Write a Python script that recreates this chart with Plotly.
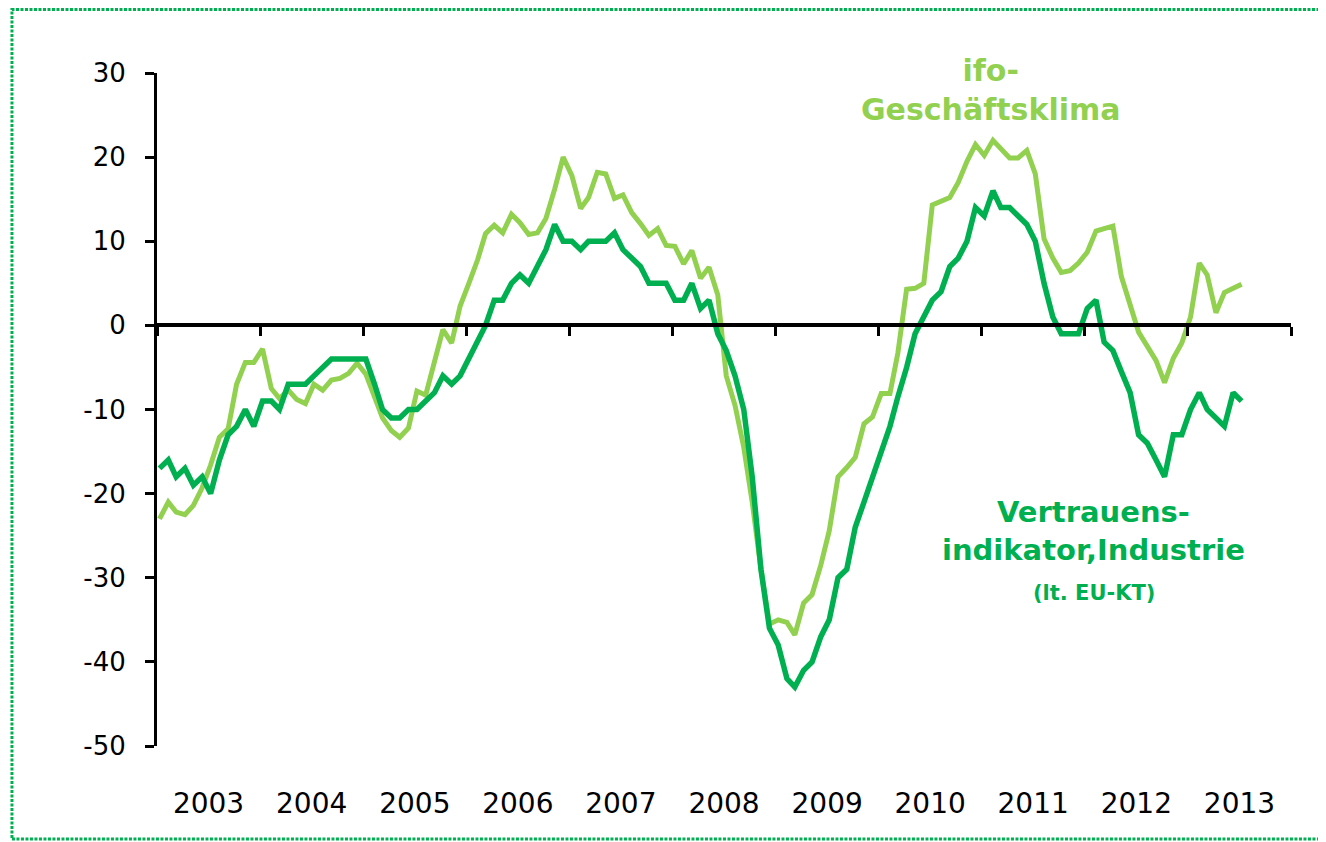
import pandas as pd
import plotly.graph_objects as go

# Monthly observations, Jan 2003 - Jul 2013
months = pd.date_range("2003-01-01", periods=127, freq="MS") + pd.Timedelta(days=9)

ifo_geschaeftsklima = [
    -23, -21, -22.2, -22.5, -21.4, -19.3, -16.6, -13.3, -12.3, -7, -4.4, -4.4,      # 2003
    -2.8, -7.5, -8.7, -7.7, -8.8, -9.3, -7, -7.7, -6.5, -6.3, -5.7, -4.5,           # 2004
    -5.8, -8.5, -11, -12.5, -13.3, -12.2, -7.8, -8.3, -4.4, -0.5, -2.1, 2.3,        # 2005
    5, 7.8, 10.9, 11.9, 11, 13.2, 12.2, 10.8, 11, 12.7, 16.2, 20,                   # 2006
    17.8, 13.9, 15.2, 18.2, 18, 15.1, 15.5, 13.4, 12.1, 10.7, 11.5, 9.5,            # 2007
    9.4, 7.3, 8.9, 5.6, 6.9, 3.6, -6, -9.5, -14.5, -21, -29, -35.5,                 # 2008
    -35, -35.3, -36.8, -33, -32, -28.5, -24.4, -18, -16.9, -15.7, -11.7, -10.9,     # 2009
    -8.1, -8.1, -3.3, 4.3, 4.4, 5, 14.3, 14.7, 15.2, 17, 19.5, 21.5,                # 2010
    20.2, 22, 21, 19.9, 19.9, 20.8, 18, 10.3, 8, 6.3, 6.5, 7.4,                     # 2011
    8.7, 11.2, 11.5, 11.8, 5.8, 2.6, -0.8, -2.5, -4.2, -6.8, -3.9, -2.1,            # 2012
    1, 7.4, 6, 1.5, 3.9, 4.4, 4.9,                                                  # 2013
]

vertrauensindikator_industrie = [
    -17, -16, -18, -17, -19, -18, -20, -16, -13, -12, -10, -12,                     # 2003
    -9, -9, -10, -7, -7, -7, -6, -5, -4, -4, -4, -4,                                # 2004
    -4, -7, -10, -11, -11, -10, -10, -9, -8, -6, -7, -6,                            # 2005
    -4, -2, 0, 3, 3, 5, 6, 5, 7, 9, 12, 10,                                         # 2006
    10, 9, 10, 10, 10, 11, 9, 8, 7, 5, 5, 5,                                        # 2007
    3, 3, 5, 2, 3, -1, -3, -6, -10, -18, -29, -36,                                  # 2008
    -38, -42, -43, -41, -40, -37, -35, -30, -29, -24, -21, -18,                     # 2009
    -15, -12, -8.5, -5, -1, 1, 3, 4, 7, 8, 10, 14,                                  # 2010
    13, 16, 14, 14, 13, 12, 10, 5, 1, -1, -1, -1,                                   # 2011
    2, 3, -2, -3, -5.5, -8, -13, -14, -16, -18, -13, -13,                           # 2012
    -10, -8, -10, -11, -12, -8, -9,                                                 # 2013
]

year_labels = [str(y) for y in range(2003, 2014)]
y_ticks = [-50, -40, -30, -20, -10, 0, 10, 20, 30]

LIGHT = "#92D050"
DARK = "#00B050"
TICK_FONT = "DejaVu Sans"

fig = go.Figure()
fig.add_trace(go.Scatter(
    x=months, y=ifo_geschaeftsklima, mode="lines", name="ifo-Geschäftsklima",
    line=dict(color=LIGHT, width=5), xaxis="x", yaxis="y",
    showlegend=False, hoverinfo="skip",
))
fig.add_trace(go.Scatter(
    x=months, y=vertrauensindikator_industrie, mode="lines",
    name="Vertrauensindikator, Industrie",
    line=dict(color=DARK, width=5.5), xaxis="x2", yaxis="y",
    showlegend=False, hoverinfo="skip",
))

x_range = ["2003-01-01", "2014-01-01"]

fig.update_layout(
    width=1326, height=842,
    margin=dict(l=149, r=43, t=65, b=104),
    paper_bgcolor="white", plot_bgcolor="white",
    showlegend=False,
    xaxis=dict(
        type="date", range=x_range,
        tickmode="linear", tick0="2003-01-01", dtick="M12",
        ticklabelmode="period", tickformat="%Y",
        ticks="outside", ticklen=32, tickcolor="rgba(0,0,0,0)",
        showline=False, showgrid=False, zeroline=False,
        tickfont=dict(family=TICK_FONT, size=28, color="black"),
    ),
    xaxis2=dict(
        type="date", overlaying="x", matches="x", anchor="free",
        position=50 / 80, side="bottom",
        tickmode="linear", tick0="2003-01-01", dtick="M12",
        showline=True, linecolor="black", linewidth=4,
        ticks="outside", ticklen=9, tickwidth=3, tickcolor="black",
        showticklabels=False, showgrid=False, zeroline=False,
    ),
    yaxis=dict(
        range=[-50, 30], tickmode="array", tickvals=y_ticks,
        ticktext=[str(v) for v in y_ticks],
        showline=True, linecolor="black", linewidth=3,
        ticks="outside", ticklen=9, tickwidth=3, tickcolor="black",
        showgrid=False, zeroline=False,
        tickfont=dict(family=TICK_FONT, size=26, color="black"),
        ticklabelstandoff=14,
    ),
    shapes=[dict(
        type="rect", xref="paper", yref="paper",
        x0=-0.1279, x1=1.0273, y0=-0.1382, y1=1.0944,
        line=dict(color=DARK, width=3, dash="3px,1.5px"),
        fillcolor="rgba(0,0,0,0)", layer="above",
    )],
    annotations=[
        dict(text="<b>ifo-<br>Geschäftsklima</b>", xref="paper", yref="paper",
             x=0.735, y=0.975, xanchor="center", yanchor="middle", showarrow=False,
             font=dict(family="DejaVu Sans", size=30, color=LIGHT)),
        dict(text="<b>Vertrauens-<br>indikator,Industrie</b>", xref="paper", yref="paper",
             x=0.826, y=0.3195, xanchor="center", yanchor="middle", showarrow=False,
             font=dict(family="DejaVu Sans", size=29, color=DARK)),
        dict(text="<b>(lt. EU-KT)</b>", xref="paper", yref="paper",
             x=0.826, y=0.227, xanchor="center", yanchor="middle", showarrow=False,
             font=dict(family="DejaVu Sans", size=21, color=DARK)),
    ],
)

fig.write_html("out.html")
